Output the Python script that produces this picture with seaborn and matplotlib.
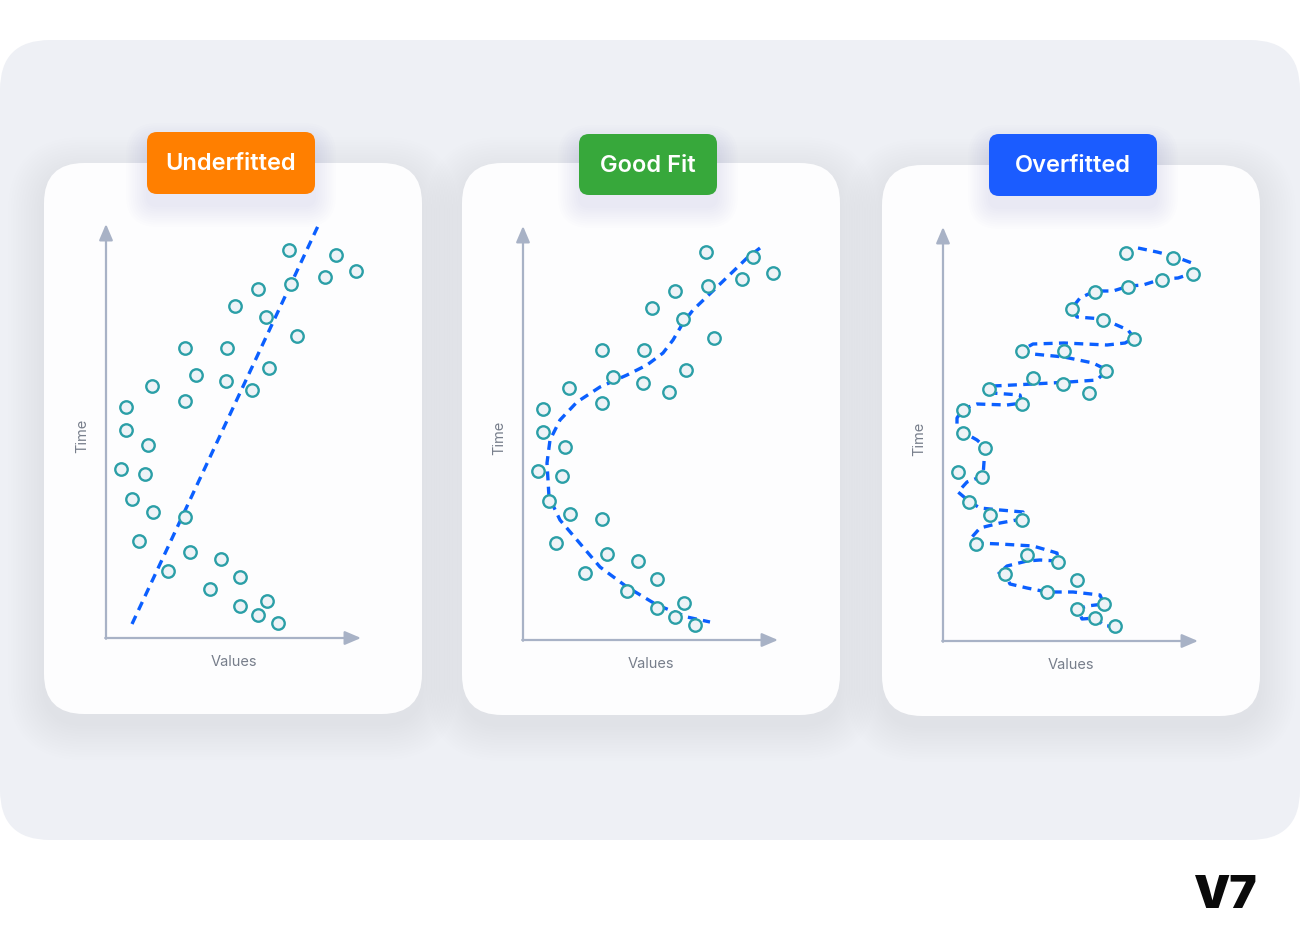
import matplotlib
matplotlib.use("Agg")
import matplotlib.pyplot as plt
from matplotlib.patches import FancyBboxPatch
import seaborn as sns

sns.set_theme(style="white")
plt.rcParams['font.family'] = ['Inter', 'DejaVu Sans']

# ---------------- data ----------------
point_values = [183, 230, 250, 219, 185, 152, 129, 160, 191, 79, 121, 163, 90, 120,
                146, 46, 79, 20, 20, 42, 15, 39, 26, 47, 79, 33, 84, 115, 62, 134,
                104, 161, 134, 152, 172]
point_times = [388, 383, 367, 361, 354, 349, 332, 321, 302, 290, 290, 270, 263, 257,
               248, 252, 237, 231, 208, 193, 169, 164, 139, 126, 121, 97, 86, 79, 67, 61,
               49, 37, 32, 23, 15]

under_line_values = [26, 212]
under_line_times = [14, 412]

good_curve_values = [237, 224, 194, 170, 160, 150, 140, 124, 104, 77, 54, 37, 27, 24,
                     26, 37, 54, 77, 104, 134, 164, 187]
good_curve_times = [392, 382, 353, 330, 317, 300, 287, 275, 265, 253, 238, 220, 200, 177,
                    143, 120, 100, 73, 53, 35, 23, 18]

over_curve_values = [195, 214, 230, 249, 250, 235, 219, 200, 186, 170, 152, 137, 129, 134,
                     160, 185, 191, 182, 164, 121, 90, 79, 90, 121, 150, 164, 154, 126,
                     90, 50, 46, 49, 77, 79, 64, 34, 20, 14, 14, 20, 34, 42, 41, 40, 24,
                     15, 27, 37, 57, 80, 79, 57, 37, 29, 33, 57, 90, 114, 115, 97, 84, 64,
                     56, 62, 67, 84, 104, 130, 157, 161, 144, 135, 139, 152, 162, 173]
over_curve_times = [393, 389, 385, 378, 368, 363, 362, 356, 355, 350, 350, 343, 333, 324,
                    322, 311, 303, 298, 296, 298, 297, 291, 287, 284, 278, 271, 261, 259,
                    257, 255, 253, 248, 246, 238, 236, 237, 232, 223, 213, 209, 201, 194,
                    179, 165, 159, 149, 139, 133, 131, 129, 122, 118, 113, 104, 98, 97, 95,
                    88, 80, 81, 80, 75, 68, 67, 57, 53, 49, 49, 46, 37, 35, 32, 22, 23, 15, 15]

panel_titles = ["Underfitted", "Good Fit", "Overfitted"]
badge_colors = ["#ff7f00", "#37a83b", "#1b5cff"]
x_label = "Values"
y_label = "Time"
logo_text = "V7"

# ---------------- layout (pixels) ----------------
W, H = 1300, 952
cards = [(44, 163, 378, 551), (462, 163, 378, 552), (882, 165, 378, 551)]
badges = [(147, 132, 168, 62), (579, 134, 138, 61), (989, 134, 168, 62)]
origins = [(106, 638), (523, 640), (943, 641)]

AXIS_C = "#a8b2c6"
LABEL_C = "#777e8b"
LINE_C = "#0b5fff"
EDGE_C = "#2b9fa7"
FACE_C = "#eef3f7"

fig = plt.figure(figsize=(W / 100, H / 100), dpi=100)
fig.patch.set_facecolor("white")
bg = fig.add_axes([0, 0, 1, 1])
bg.set_xlim(0, W)
bg.set_ylim(H, 0)
bg.axis("off")

bg.add_patch(FancyBboxPatch((0, 40), W, 800, boxstyle="round,pad=0,rounding_size=50",
                            fc="#eef0f5", ec="none", zorder=0))

for (cx, cy, cw, ch), (bx, by, bw, bh), title, col in zip(cards, badges, panel_titles, badge_colors):
    # card shadow
    for i in range(14):
        e = 2 + i * 2.6
        bg.add_patch(FancyBboxPatch((cx - e, cy - e + 10), cw + 2 * e, ch + 2 * e,
                                    boxstyle=f"round,pad=0,rounding_size={40 + e}",
                                    fc="#9aa4bb", ec="none", alpha=0.007, zorder=1))
    bg.add_patch(FancyBboxPatch((cx, cy), cw, ch, boxstyle="round,pad=0,rounding_size=40",
                                fc="#fdfdfe", ec="none", zorder=2))
    # badge shadow
    for i in range(10):
        e = 1 + i * 2.2
        bg.add_patch(FancyBboxPatch((bx - e, by - e + 12), bw + 2 * e, bh + 2 * e,
                                    boxstyle=f"round,pad=0,rounding_size={10 + e}",
                                    fc="#8e94c0", ec="none", alpha=0.014, zorder=3))
    bg.add_patch(FancyBboxPatch((bx, by), bw, bh, boxstyle="round,pad=0,rounding_size=10",
                                fc=col, ec="none", zorder=4))
    bg.text(bx + bw / 2, by + bh / 2 + 1, title, ha="center", va="center", color="white",
            fontsize=17, fontweight="semibold", zorder=5)

bg.text(1226, 896, logo_text, ha="center", va="center", color="#0a0a0a",
        fontsize=33, fontweight="black", fontstyle="normal", zorder=5)

curves = [(under_line_values, under_line_times),
          (good_curve_values, good_curve_times),
          (over_curve_values, over_curve_times)]

AW, AH = 280, 430
for (ox, oy), (cv, ct) in zip(origins, curves):
    ax = fig.add_axes([ox / W, (H - oy) / H, AW / W, AH / H])
    ax.set_xlim(0, AW)
    ax.set_ylim(0, AH)
    ax.axis("off")
    ax.patch.set_alpha(0)
    arrow = dict(arrowstyle="-|>,head_length=0.75,head_width=0.32", color=AXIS_C, lw=1.6,
                 shrinkA=0, shrinkB=0, mutation_scale=13)
    ax.annotate("", xy=(0, 414), xytext=(0, -0.8), arrowprops=arrow, annotation_clip=False)
    ax.annotate("", xy=(255, 0), xytext=(-0.8, 0), arrowprops=arrow, annotation_clip=False)
    sns.lineplot(x=cv, y=ct, ax=ax, sort=False, estimator=None, color=LINE_C,
                 linewidth=2.4, linestyle=(0, (2.7, 1.9)), zorder=2)
    sns.scatterplot(x=point_values, y=point_times, ax=ax, s=80, marker="o",
                    color=FACE_C, edgecolor=EDGE_C, linewidth=1.7, zorder=3, clip_on=False)
    ax.text(-24, 202, y_label, rotation=90, ha="center", va="center", color=LABEL_C,
            fontsize=10.5)
    ax.text(128, -24, x_label, ha="center", va="center", color=LABEL_C, fontsize=10.5)
    ax.axis("off")

fig.savefig("out.png", dpi=100, facecolor="white")
